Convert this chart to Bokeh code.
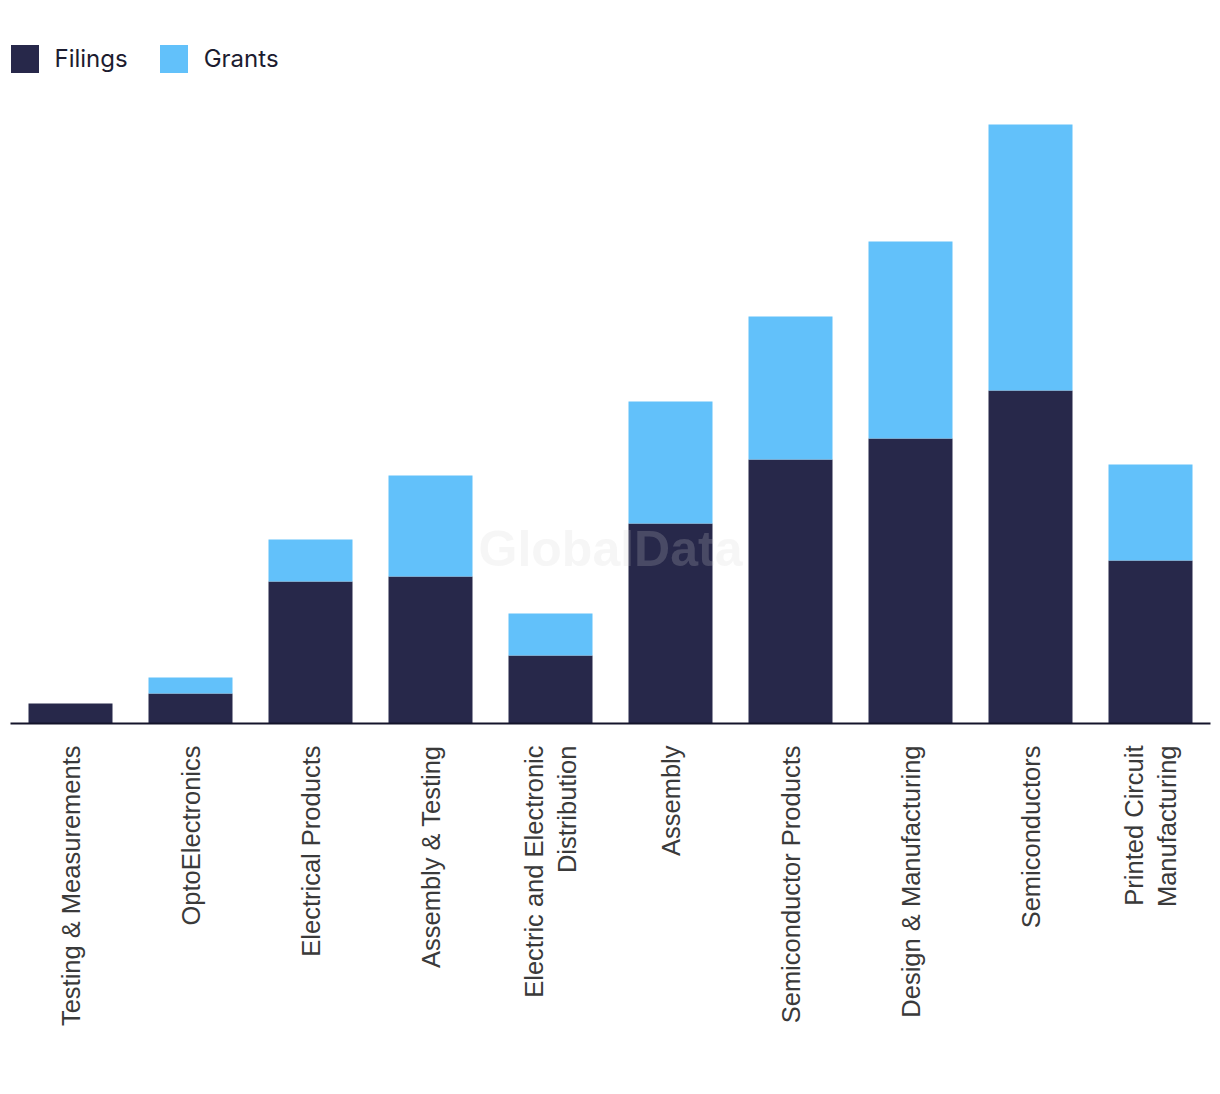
import math
from bokeh.plotting import figure
from bokeh.models import ColumnDataSource, FactorRange, Range1d, Label, Legend
from bokeh.embed import file_html
from bokeh.resources import INLINE

categories = [
    "Testing & Measurements",
    "OptoElectronics",
    "Electrical Products",
    "Assembly & Testing",
    "Electric and Electronic\nDistribution",
    "Assembly",
    "Semiconductor Products",
    "Design & Manufacturing",
    "Semiconductors",
    "Printed Circuit\nManufacturing",
]
filings = [20, 30, 142, 147, 68, 200, 264, 285, 333, 163]
grants = [0, 16, 42, 101, 42, 122, 143, 197, 266, 96]

FILINGS_COLOR = "#27284a"
GRANTS_COLOR = "#62c1fa"

source = ColumnDataSource(dict(cat=categories, Filings=filings, Grants=grants))

p = figure(
    x_range=FactorRange(factors=categories, range_padding=0),
    y_range=Range1d(0, 715),
    frame_width=1200, frame_height=715,
    min_border_left=10, min_border_right=10, min_border_top=8, min_border_bottom=350,
    output_backend="svg", toolbar_location=None,
)

renderers = p.vbar_stack(["Filings", "Grants"], x="cat", width=0.7, source=source,
                         color=[FILINGS_COLOR, GRANTS_COLOR], line_width=0)

legend = Legend(items=[("Filings", [renderers[0]]), ("Grants", [renderers[1]])],
                orientation="horizontal", location=(-3.5, 647.5),
                glyph_width=35, glyph_height=35, label_standoff=13, spacing=28,
                padding=0, margin=0, border_line_color=None, background_fill_alpha=0,
                label_text_font="Inter", label_text_font_size="24px",
                label_text_color="#1c1c30", label_height=28)
p.add_layout(legend)

wm = Label(x=5, y=175, text="GlobalData", text_align="center", text_baseline="middle",
           text_font="Liberation Sans", text_font_style="bold", text_font_size="50px",
           text_color="#d3d3d3", text_alpha=0.2)
p.add_layout(wm)

p.yaxis.visible = False
p.xgrid.visible = False
p.ygrid.visible = False
p.outline_line_color = None
p.xaxis.axis_line_color = "#14142b"
p.xaxis.axis_line_width = 2
p.xaxis.major_tick_line_color = None
p.xaxis.minor_tick_line_color = None
p.xaxis.major_label_orientation = math.pi / 2
p.xaxis.major_label_standoff = 16
p.xaxis.major_label_text_font = "Liberation Sans"
p.xaxis.major_label_text_font_size = "25.5px"
p.xaxis.major_label_text_color = "#3a3a3a"

open("out.html", "w").write(file_html(p, INLINE))
